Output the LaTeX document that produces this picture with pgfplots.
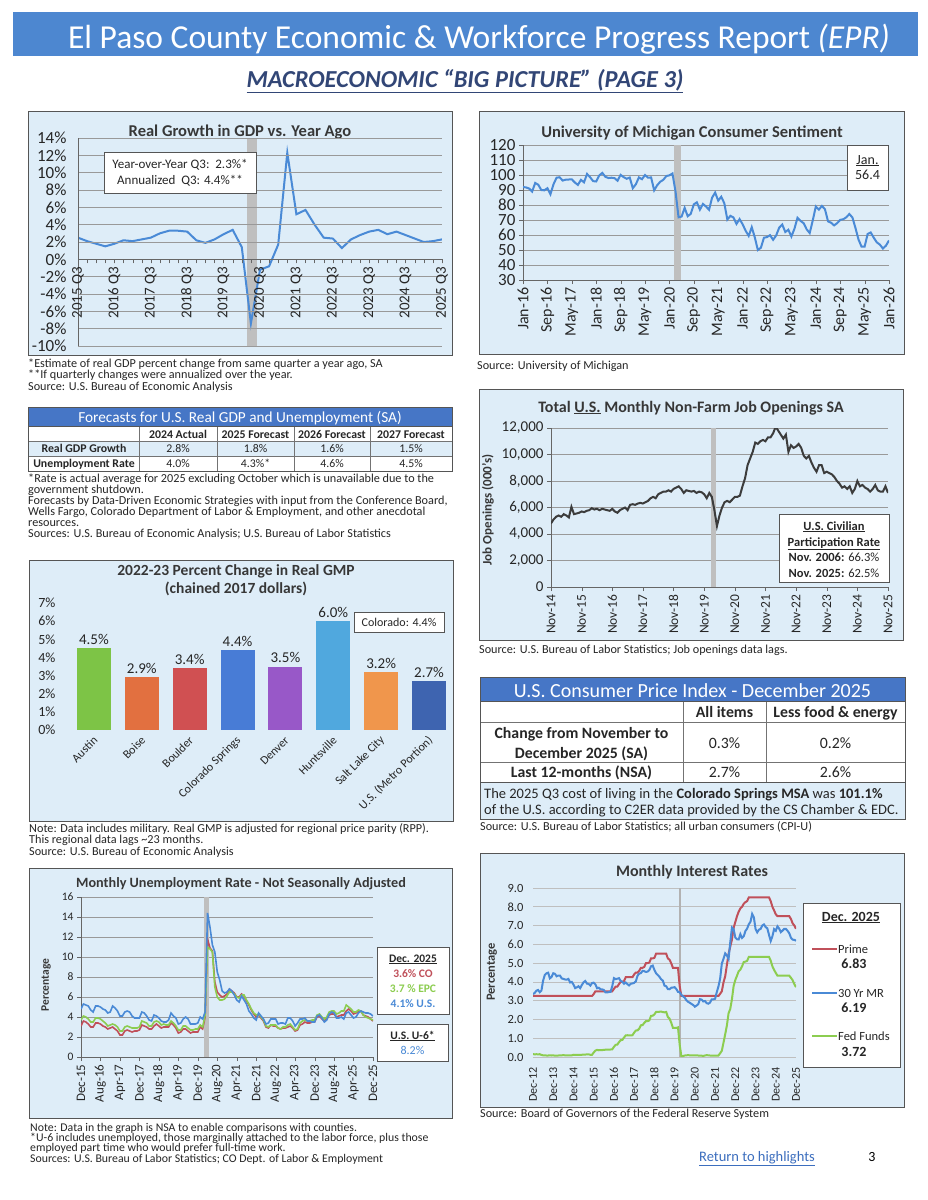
\documentclass[border=0pt]{standalone}
\usepackage{pgfplots}
\pgfplotsset{compat=1.18}
\usepackage{pgfplotstable}
\usepackage{fontspec}
\setmainfont{Carlito}

\definecolor{hdr}{RGB}{77,135,208}
\definecolor{tblhdr}{RGB}{70,118,198}
\definecolor{panel}{RGB}{222,237,248}
\definecolor{frame}{RGB}{85,85,85}
\definecolor{subt}{RGB}{50,70,118}
\definecolor{ttl}{RGB}{55,55,55}
\definecolor{lnblue}{RGB}{74,138,214}
\definecolor{lnred}{RGB}{192,80,90}
\definecolor{lngreen}{RGB}{140,205,80}
\definecolor{lngray}{RGB}{60,60,60}
\definecolor{link}{RGB}{60,110,190}
\definecolor{cAustin}{RGB}{125,196,70}
\definecolor{cBoise}{RGB}{226,112,64}
\definecolor{cBoulder}{RGB}{208,80,82}
\definecolor{cCS}{RGB}{72,124,214}
\definecolor{cDenver}{RGB}{152,88,200}
\definecolor{cHunts}{RGB}{80,168,222}
\definecolor{cSLC}{RGB}{240,150,76}
\definecolor{cUS}{RGB}{62,100,176}

\newcommand\fs[1]{\fontsize{#1}{#1}\selectfont}

\pgfplotsset{
  base/.style={scale only axis, anchor=south west,
    /pgf/number format/assume math mode=true,
    axis line style={-, draw=black!60}, tick style={black!60},
    ymajorgrids, grid style={black!40, line width=0.7pt},
    tick label style={text=black!85}},
}

% real GDP, % change from a year ago, 2015 Q3 .. 2025 Q3
\pgfplotstableread[row sep=\\]{v\\
2.5\\2.1\\1.8\\1.5\\1.8\\2.2\\2.1\\2.3\\2.5\\3.0\\3.3\\3.3\\3.2\\2.2\\1.9\\2.3\\2.9\\3.4\\1.4\\-7.4\\
-1.2\\-0.8\\1.7\\12.3\\5.2\\5.7\\4.0\\2.5\\2.4\\1.3\\2.3\\2.8\\3.2\\3.4\\2.9\\3.2\\2.8\\2.4\\2.0\\2.1\\2.3\\
}\gdp

% consumer sentiment, Jan-16 .. Jan-26
\pgfplotstableread[row sep=\\]{v\\
92.0\\91.7\\91.0\\89.0\\94.7\\93.5\\90.0\\89.8\\91.2\\87.2\\93.8\\98.2\\
98.5\\96.3\\96.9\\97.0\\97.1\\95.0\\93.4\\96.8\\95.1\\100.7\\98.5\\95.9\\
95.7\\99.7\\101.4\\98.8\\98.0\\98.2\\97.9\\96.2\\100.1\\98.6\\97.5\\98.3\\
91.2\\93.8\\98.4\\97.2\\100.0\\98.2\\98.4\\89.8\\93.2\\95.5\\96.8\\99.3\\
99.8\\101.0\\89.1\\71.8\\72.3\\78.1\\72.5\\74.1\\80.4\\81.8\\76.9\\80.7\\
79.0\\76.8\\84.9\\88.3\\82.9\\85.5\\81.2\\70.3\\72.8\\71.7\\67.4\\70.6\\
67.2\\62.8\\59.4\\65.2\\58.4\\50.0\\51.5\\58.2\\58.6\\59.9\\56.8\\59.7\\
64.9\\67.0\\62.0\\63.5\\59.0\\64.2\\71.5\\69.4\\67.9\\63.8\\61.3\\69.7\\
79.0\\76.9\\79.4\\77.2\\69.1\\68.2\\66.4\\67.9\\70.1\\70.5\\71.8\\74.0\\
71.7\\64.7\\57.0\\52.2\\52.2\\60.7\\61.7\\58.2\\55.1\\53.6\\51.0\\52.9\\
56.4\\
}\mich

% job openings (000s), Nov-14 .. Nov-25
\pgfplotstableread[row sep=\\]{v\\
4800\\5100\\
5300\\5400\\5300\\5500\\5400\\5250\\6050\\5500\\5550\\5600\\5700\\5650\\
5750\\5800\\5950\\5850\\5900\\5800\\5900\\5850\\5800\\5750\\5900\\5700\\
5600\\5800\\5900\\6000\\5800\\6200\\6250\\6200\\6300\\6350\\6300\\6400\\
6500\\6700\\6800\\6700\\7000\\7100\\7200\\7200\\7300\\7200\\7400\\7500\\
7600\\7400\\7100\\7300\\7250\\7200\\7250\\7100\\7200\\7150\\7000\\6700\\
7100\\6800\\5800\\4600\\5400\\6000\\6400\\6500\\6400\\6600\\6800\\6800\\
6900\\7600\\8200\\9200\\9700\\10200\\10900\\10800\\11000\\11100\\11000\\11300\\
11300\\11600\\12100\\11800\\11500\\11200\\11500\\10200\\10700\\10500\\10600\\10800\\
10500\\9900\\9700\\9900\\9400\\9000\\8700\\9200\\9200\\8600\\8700\\8600\\
8500\\8300\\8000\\7800\\7500\\7600\\7400\\7600\\7100\\7400\\8000\\7600\\
7700\\7500\\7400\\7200\\7400\\7700\\7300\\7200\\7200\\7600\\7100\\
}\jobs

% unemployment rate NSA, Dec-15 .. Dec-25
\pgfplotstableread[row sep=\\]{v\\
4.8\\
5.3\\5.2\\5.1\\4.7\\4.5\\5.1\\5.1\\5.0\\4.8\\4.7\\4.4\\4.5\\
5.1\\4.9\\4.6\\4.1\\4.1\\4.5\\4.6\\4.5\\4.1\\3.9\\3.9\\3.9\\
4.5\\4.4\\4.1\\3.7\\3.6\\4.2\\4.1\\3.9\\3.6\\3.5\\3.5\\3.7\\
4.4\\4.1\\3.9\\3.3\\3.4\\3.8\\4.0\\3.8\\3.3\\3.3\\3.3\\3.4\\
4.0\\3.8\\4.5\\14.4\\13.0\\11.2\\10.5\\8.5\\7.7\\6.6\\6.4\\6.5\\
6.8\\6.6\\6.2\\5.7\\5.5\\6.1\\5.7\\5.3\\4.6\\4.3\\3.9\\3.7\\
4.4\\4.1\\3.8\\3.3\\3.4\\3.8\\3.8\\3.8\\3.3\\3.4\\3.4\\3.3\\
3.9\\3.9\\3.6\\3.1\\3.4\\3.8\\3.8\\3.9\\3.6\\3.6\\3.5\\3.5\\
4.1\\4.2\\3.9\\3.5\\3.7\\4.3\\4.5\\4.4\\3.9\\3.9\\4.0\\3.8\\
4.4\\4.5\\4.2\\3.9\\4.0\\4.4\\4.6\\4.5\\4.4\\4.4\\4.3\\4.1\\
}\unus
\pgfplotstableread[row sep=\\]{v\\
3.1\\
3.6\\3.5\\3.3\\3.0\\3.0\\3.4\\3.4\\3.3\\3.1\\3.0\\2.8\\2.9\\
3.0\\2.8\\2.6\\2.2\\2.2\\2.6\\2.7\\2.6\\2.5\\2.6\\2.6\\2.7\\
3.2\\3.1\\3.0\\2.8\\2.8\\3.1\\3.3\\3.1\\2.9\\3.0\\3.0\\3.0\\
3.4\\3.2\\2.9\\2.4\\2.5\\2.8\\2.8\\2.6\\2.4\\2.5\\2.5\\2.5\\
3.0\\2.8\\4.0\\11.8\\10.9\\10.6\\7.5\\6.5\\6.2\\6.0\\6.1\\6.3\\
6.8\\6.6\\6.4\\6.0\\6.0\\6.3\\6.1\\5.6\\5.2\\4.7\\4.3\\4.0\\
4.2\\3.9\\3.6\\3.0\\2.9\\3.2\\3.1\\3.1\\2.9\\2.8\\2.9\\2.9\\
3.0\\3.1\\2.9\\2.6\\2.7\\3.2\\3.3\\3.5\\3.4\\3.4\\3.5\\3.5\\
4.0\\4.1\\3.8\\3.6\\3.8\\4.2\\4.3\\4.3\\4.0\\4.1\\4.2\\4.2\\
4.6\\4.8\\4.6\\4.3\\4.4\\4.6\\4.6\\4.2\\4.1\\4.0\\3.8\\3.6\\
}\unco
\pgfplotstableread[row sep=\\]{v\\
3.7\\
4.1\\4.0\\3.8\\3.5\\3.5\\3.9\\3.9\\3.8\\3.6\\3.4\\3.1\\3.2\\
3.3\\3.2\\3.0\\2.6\\2.6\\3.0\\3.1\\3.0\\2.9\\2.9\\2.9\\3.0\\
3.6\\3.5\\3.4\\3.1\\3.1\\3.5\\3.6\\3.5\\3.2\\3.3\\3.2\\3.2\\
3.6\\3.4\\3.1\\2.7\\2.7\\3.1\\3.1\\2.9\\2.7\\2.7\\2.8\\2.8\\
3.2\\3.0\\4.2\\11.0\\10.8\\10.5\\7.0\\6.0\\5.7\\5.7\\5.8\\6.1\\
6.5\\6.5\\6.3\\6.0\\5.9\\6.2\\6.2\\5.7\\5.3\\4.8\\4.4\\4.2\\
4.3\\4.0\\3.7\\3.1\\3.0\\3.2\\3.2\\3.2\\2.9\\2.8\\3.0\\3.0\\
3.2\\3.3\\3.0\\2.7\\2.8\\3.4\\3.6\\3.7\\3.6\\3.6\\3.7\\3.7\\
4.2\\4.3\\4.0\\3.8\\4.0\\4.5\\4.6\\4.6\\4.3\\4.4\\4.6\\4.6\\
5.2\\5.0\\4.8\\4.5\\4.5\\4.7\\4.6\\4.2\\4.0\\3.9\\3.8\\3.7\\
}\unepc

% interest rates, Dec-12 .. Dec-25
\pgfplotstableread[row sep=\\]{v\\
3.25\\
3.25\\3.25\\3.25\\3.25\\3.25\\3.25\\3.25\\3.25\\3.25\\3.25\\3.25\\3.25\\
3.25\\3.25\\3.25\\3.25\\3.25\\3.25\\3.25\\3.25\\3.25\\3.25\\3.25\\3.25\\
3.25\\3.25\\3.25\\3.25\\3.25\\3.25\\3.25\\3.25\\3.25\\3.25\\3.25\\3.35\\
3.5\\3.5\\3.5\\3.5\\3.5\\3.5\\3.5\\3.5\\3.5\\3.5\\3.5\\3.63\\
3.75\\3.75\\3.88\\4.0\\4.0\\4.05\\4.25\\4.25\\4.25\\4.25\\4.25\\4.4\\
4.5\\4.5\\4.59\\4.75\\4.75\\4.8\\5.0\\5.0\\5.03\\5.25\\5.25\\5.28\\
5.5\\5.5\\5.5\\5.5\\5.5\\5.5\\5.5\\5.25\\5.18\\4.99\\4.75\\4.75\\
4.75\\4.75\\3.78\\3.25\\3.25\\3.25\\3.25\\3.25\\3.25\\3.25\\3.25\\3.25\\
3.25\\3.25\\3.25\\3.25\\3.25\\3.25\\3.25\\3.25\\3.25\\3.25\\3.25\\3.25\\
3.25\\3.25\\3.37\\3.5\\3.98\\4.3\\4.9\\5.5\\5.88\\6.25\\6.88\\7.19\\
7.5\\7.74\\7.92\\8.0\\8.16\\8.25\\8.3\\8.5\\8.5\\8.5\\8.5\\8.5\\
8.5\\8.5\\8.5\\8.5\\8.5\\8.5\\8.5\\8.5\\8.3\\8.0\\7.81\\7.6\\
7.5\\7.5\\7.5\\7.5\\7.5\\7.5\\7.5\\7.5\\7.35\\7.12\\7.0\\6.83\\
}\prime
\pgfplotstableread[row sep=\\]{v\\
3.35\\
3.41\\3.53\\3.57\\3.45\\3.54\\4.07\\4.37\\4.46\\4.49\\4.19\\4.26\\4.46\\
4.43\\4.30\\4.34\\4.34\\4.19\\4.16\\4.13\\4.12\\4.16\\3.97\\4.00\\3.86\\
3.67\\3.71\\3.77\\3.67\\3.84\\3.98\\4.05\\3.91\\3.89\\3.80\\3.94\\3.96\\
3.87\\3.66\\3.69\\3.61\\3.60\\3.57\\3.44\\3.44\\3.46\\3.47\\3.77\\4.20\\
4.15\\4.17\\4.20\\4.05\\4.01\\3.90\\3.97\\3.88\\3.81\\3.90\\3.92\\3.95\\
4.03\\4.33\\4.44\\4.47\\4.59\\4.57\\4.53\\4.55\\4.63\\4.83\\4.87\\4.64\\
4.46\\4.37\\4.27\\4.14\\4.07\\3.80\\3.77\\3.62\\3.61\\3.69\\3.70\\3.72\\
3.62\\3.47\\3.45\\3.31\\3.23\\3.16\\3.02\\2.94\\2.89\\2.83\\2.77\\2.68\\
2.74\\2.81\\3.08\\3.06\\2.96\\2.98\\2.87\\2.84\\2.90\\3.07\\3.07\\3.10\\
3.45\\3.76\\4.17\\4.98\\5.23\\5.52\\5.41\\5.22\\6.11\\6.90\\6.81\\6.36\\
6.27\\6.26\\6.54\\6.34\\6.43\\6.71\\6.84\\7.07\\7.20\\7.62\\7.44\\6.82\\
6.64\\6.78\\6.82\\7.00\\7.06\\6.92\\6.85\\6.50\\6.18\\6.43\\6.81\\6.72\\
6.96\\6.84\\6.65\\6.73\\6.82\\6.82\\6.72\\6.59\\6.35\\6.25\\6.24\\6.19\\
}\mortg
\pgfplotstableread[row sep=\\]{v\\
0.16\\
0.14\\0.15\\0.14\\0.15\\0.11\\0.09\\0.09\\0.08\\0.08\\0.09\\0.08\\0.09\\
0.07\\0.07\\0.08\\0.09\\0.09\\0.10\\0.09\\0.09\\0.09\\0.09\\0.09\\0.12\\
0.11\\0.11\\0.11\\0.12\\0.12\\0.13\\0.13\\0.14\\0.14\\0.12\\0.12\\0.24\\
0.34\\0.38\\0.36\\0.37\\0.37\\0.38\\0.39\\0.40\\0.40\\0.40\\0.41\\0.54\\
0.65\\0.66\\0.79\\0.90\\0.91\\1.04\\1.15\\1.16\\1.15\\1.15\\1.16\\1.30\\
1.41\\1.42\\1.51\\1.69\\1.70\\1.82\\1.91\\1.91\\1.95\\2.19\\2.20\\2.27\\
2.40\\2.40\\2.41\\2.42\\2.39\\2.38\\2.40\\2.13\\2.04\\1.83\\1.55\\1.55\\
1.55\\1.58\\0.65\\0.05\\0.05\\0.08\\0.09\\0.10\\0.09\\0.09\\0.09\\0.09\\
0.09\\0.08\\0.07\\0.07\\0.06\\0.08\\0.10\\0.09\\0.08\\0.08\\0.08\\0.08\\
0.08\\0.08\\0.20\\0.33\\0.77\\1.21\\1.68\\2.33\\2.56\\3.08\\3.78\\4.10\\
4.33\\4.57\\4.65\\4.83\\5.06\\5.08\\5.12\\5.33\\5.33\\5.33\\5.33\\5.33\\
5.33\\5.33\\5.33\\5.33\\5.33\\5.33\\5.33\\5.33\\5.13\\4.83\\4.64\\4.48\\
4.33\\4.33\\4.33\\4.33\\4.33\\4.33\\4.33\\4.33\\4.22\\4.09\\3.88\\3.72\\
}\fedf

\begin{document}
\begin{tikzpicture}
\path[use as bounding box, fill=white] (0pt,0pt) rectangle (927pt,-1200pt);

\begin{scope}[x=1pt,y=-1pt]
% page header
\fill[hdr] (13,12) rectangle (918,56);
\node[anchor=base, text=white, inner sep=0pt, font=\fs{33.5}] at (479,48)
  {El Paso County Economic \& Workforce Progress Report \textit{(EPR)}};
\node[anchor=base, text=subt, inner sep=0pt, font=\fs{24.4}\bfseries\itshape] at (465,87)
  {\underline{MACROECONOMIC “BIG PICTURE” (PAGE 3)}};

% chart panels
\foreach \a/\b/\c/\d in {28/111/452/355, 479/111/904/354, 29/560/453/821,
                         479/389/903/640, 29/868/452/1118, 480/853/904/1107}
  \draw[frame, fill=panel, line width=0.8pt] (\a,\b) rectangle (\c,\d);

% chart titles
\begin{scope}[every node/.style={anchor=base, inner sep=0pt, text=ttl}]
\node[font=\fs{16.5}\bfseries] at (240,136) {Real Growth in GDP vs. Year Ago};
\node[font=\fs{16.5}\bfseries] at (692,137) {University of Michigan Consumer Sentiment};
\node[font=\fs{15.5}\bfseries] at (236,575) {2022-23 Percent Change in Real GMP};
\node[font=\fs{15.5}\bfseries] at (236,593) {(chained 2017 dollars)};
\node[font=\fs{16}\bfseries] at (691,412) {Total \underline{U.S.} Monthly Non-Farm Job Openings SA};
\node[font=\fs{14.2}\bfseries] at (241,887) {Monthly Unemployment Rate - Not Seasonally Adjusted};
\node[font=\fs{16}\bfseries] at (692,876) {Monthly Interest Rates};
\end{scope}

% forecast table
\fill[tblhdr] (28,407) rectangle (452,426);
\fill[panel] (28,441) rectangle (452,456);
\draw[black!55, line width=0.6pt] (28,441)--(452,441) (28,456)--(452,456)
  \foreach \x in {139,217,294,370} {(\x,426)--(\x,471)};
\draw[frame, line width=0.9pt] (28,407) rectangle (452,471) (28,426)--(452,426);
\node[anchor=base, text=white, font=\fs{15.3}] at (240,422) {Forecasts for U.S. Real GDP and Unemployment (SA)};
\begin{scope}[every node/.style={anchor=base, inner sep=0pt, text=black!85, font=\fs{11.8}}]
\node[font=\fs{11.8}\bfseries] at (178,438) {2024 Actual};
\node[font=\fs{11.8}\bfseries] at (255.5,438) {2025 Forecast};
\node[font=\fs{11.8}\bfseries] at (332,438) {2026 Forecast};
\node[font=\fs{11.8}\bfseries] at (411,438) {2027 Forecast};
\node[font=\fs{11.8}\bfseries] at (84,452) {Real GDP Growth};
\node at (178,452) {2.8\%}; \node at (255.5,452) {1.8\%};
\node at (332,452) {1.6\%}; \node at (411,452) {1.5\%};
\node[font=\fs{11.8}\bfseries] at (84,467) {Unemployment Rate};
\node at (178,467) {4.0\%}; \node at (255.5,467) {4.3\%*};
\node at (332,467) {4.6\%}; \node at (411,467) {4.5\%};
\end{scope}

% CPI table
\fill[tblhdr] (480,677) rectangle (905,701);
\fill[panel] (480,782) rectangle (905,819);
\draw[black!55, line width=0.6pt] (480,722)--(905,722) (480,762)--(905,762)
  (683,701)--(683,782) (766,701)--(766,782);
\draw[frame, line width=0.9pt] (480,677) rectangle (905,819) (480,701)--(905,701) (480,782)--(905,782);
\node[anchor=base, text=white, font=\fs{20}] at (692.5,697) {U.S. Consumer Price Index - December 2025};
\begin{scope}[every node/.style={anchor=base, inner sep=0pt, text=black!85, font=\fs{15.8}}]
\node[font=\fs{15.8}\bfseries] at (724.5,717) {All items};
\node[font=\fs{15.8}\bfseries] at (835.5,717) {Less food \& energy};
\node[font=\fs{15.8}\bfseries] at (581.5,738) {Change from November to};
\node[font=\fs{15.8}\bfseries] at (581.5,758) {December 2025 (SA)};
\node at (724.5,748) {0.3\%}; \node at (835.5,748) {0.2\%};
\node[font=\fs{15.8}\bfseries] at (581.5,777) {Last 12-months (NSA)};
\node at (724.5,777) {2.7\%}; \node at (835.5,777) {2.6\%};
\node[anchor=base west, font=\fs{14.5}] at (484,798)
  {The 2025 Q3 cost of living in the \textbf{Colorado Springs MSA} was \textbf{101.1\%}};
\node[anchor=base west, font=\fs{14.5}] at (484,814)
  {of the U.S. according to C2ER data provided by the CS Chamber \& EDC.};
\end{scope}

% notes and sources
\begin{scope}[every node/.style={anchor=base west, inner sep=0pt, text=black!85, font=\fs{12.2}}]
\node at (28,367) {*Estimate of real GDP percent change from same quarter a year ago, SA};
\node at (28,378) {**If quarterly changes were annualized over the year.};
\node at (28,390) {Source: U.S. Bureau of Economic Analysis};
\node at (477,369) {Source: University of Michigan};
\node at (28,482) {*Rate is actual average for 2025 excluding October which is unavailable due to the};
\node at (28,493) {government shutdown.};
\node at (28,504) {Forecasts by Data-Driven Economic Strategies with input from the Conference Board,};
\node at (28,515) {Wells Fargo, Colorado Department of Labor \& Employment, and other anecdotal};
\node at (28,526) {resources.};
\node at (28,537) {Sources: U.S. Bureau of Economic Analysis; U.S. Bureau of Labor Statistics};
\node at (479,653) {Source: U.S. Bureau of Labor Statistics; Job openings data lags.};
\node at (29,832) {Note: Data includes military. Real GMP is adjusted for regional price parity (RPP).};
\node at (29,843) {This regional data lags \textasciitilde 23 months.};
\node at (29,855) {Source: U.S. Bureau of Economic Analysis};
\node at (480,830) {Source: U.S. Bureau of Labor Statistics; all urban consumers (CPI-U)};
\node at (480,1117) {Source: Board of Governors of the Federal Reserve System};
\end{scope}
\begin{scope}[every node/.style={anchor=base west, inner sep=0pt, text=black!85, font=\fs{11.8}}]
\node at (30,1131) {Note: Data in the graph is NSA to enable comparisons with counties.};
\node at (30,1141) {*U-6 includes unemployed, those marginally attached to the labor force, plus those};
\node at (30,1151) {employed part time who would prefer full-time work.};
\node at (30,1162) {Sources: U.S. Bureau of Labor Statistics; CO Dept. of Labor \& Employment};
\end{scope}
\node[anchor=base, text=link, font=\fs{14.5}] at (757,1161) {\underline{Return to highlights}};
\node[anchor=base, text=black, font=\fs{14}] at (872,1161) {3};
\end{scope}

% ---- Real GDP growth
\begin{axis}[base, axis on top, at={(78pt,-346pt)}, width=364pt, height=208pt,
  xmin=0, xmax=40, ymin=-10, ymax=14,
  axis x line=middle, axis y line=left, axis line style={-, draw=black!60},
  hide obscured x ticks=false, hide obscured y ticks=false,
  ytick={-10,-8,...,14}, yticklabel={\pgfmathprintnumber{\tick}\%},
  ytick style={draw=none},
  xtick={0,4,...,40}, minor xtick={0,...,40},
  xticklabels={2015 Q3,2016 Q3,2017 Q3,2018 Q3,2019 Q3,2020 Q3,2021 Q3,2022 Q3,2023 Q3,2024 Q3,2025 Q3},
  xticklabel style={rotate=90, anchor=east, font=\fs{15}},
  yticklabel style={font=\fs{17}, xshift=-4pt},
  tick align=outside, major tick length=4pt, minor tick length=4pt]
\fill[black!25] (axis cs:18.6,-10) rectangle (axis cs:19.7,14);
\addplot[lnblue, line width=2pt, no marks] table[x expr=\coordindex, y=v] {\gdp};
\end{axis}

% ---- consumer sentiment
\begin{axis}[base, at={(523pt,-280pt)}, width=366pt, height=135pt,
  xmin=0, xmax=120, ymin=30, ymax=120,
  axis x line=bottom, axis y line=left, axis line style={-, draw=black!60},
  ytick={30,40,...,120}, xtick={0,8,...,120},
  xticklabels={Jan-16,Sep-16,May-17,Jan-18,Sep-18,May-19,Jan-20,Sep-20,May-21,Jan-22,Sep-22,May-23,Jan-24,Sep-24,May-25,Jan-26},
  xticklabel style={rotate=90, anchor=east, font=\fs{16}},
  yticklabel style={font=\fs{17}},
  tick align=outside, major tick length=4pt]
\fill[black!25] (axis cs:49.5,30) rectangle (axis cs:51.8,120);
\addplot[lnblue, line width=2pt, no marks] table[x expr=\coordindex, y=v] {\mich};
\end{axis}

% ---- job openings
\begin{axis}[base, at={(551pt,-587pt)}, width=337pt, height=159pt,
  xmin=0, xmax=132, ymin=0, ymax=12000, scaled y ticks=false,
  axis x line=bottom, axis y line=left, axis line style={-, draw=black!60},
  ytick={0,2000,...,12000}, xtick={0,12,...,132},
  xticklabels={Nov-14,Nov-15,Nov-16,Nov-17,Nov-18,Nov-19,Nov-20,Nov-21,Nov-22,Nov-23,Nov-24,Nov-25},
  xticklabel style={rotate=90, anchor=east, font=\fs{13.5}},
  yticklabel style={font=\fs{15}, /pgf/number format/1000 sep={,}},
  tick align=outside, major tick length=4pt]
\fill[black!25] (axis cs:62.6,0) rectangle (axis cs:64.8,12000);
\addplot[lngray, line width=2pt, no marks] table[x expr=\coordindex, y=v] {\jobs};
\end{axis}

% ---- real GMP bars
\begin{axis}[base, at={(70pt,-730pt)}, width=383pt, height=127pt,
  xmin=-0.5, xmax=7.5, ymin=0, ymax=7, clip=false,
  ymajorgrids=false, axis line style={draw=none}, tick style={draw=none},
  ytick={0,1,...,7}, yticklabel={\pgfmathprintnumber{\tick}\%},
  yticklabel style={font=\fs{14}, xshift=-11pt},
  xtick={0,...,7},
  xticklabels={Austin,Boise,Boulder,Colorado Springs,Denver,Huntsville,Salt Lake City,U.S. (Metro Portion)},
  xticklabel style={yshift=-6pt, xshift=4pt, rotate=45, anchor=east, font=\fs{12}},
  nodes near coords={\pgfmathprintnumber[fixed,fixed zerofill,precision=1]{\pgfplotspointmeta}\%},
  every node near coord/.append style={font=\fs{15}, text=black!85}]
\addplot[ybar, bar width=34pt, fill=cAustin, draw=none] coordinates {(0,4.5)};
\addplot[ybar, bar width=34pt, fill=cBoise, draw=none] coordinates {(1,2.9)};
\addplot[ybar, bar width=34pt, fill=cBoulder, draw=none] coordinates {(2,3.4)};
\addplot[ybar, bar width=34pt, fill=cCS, draw=none] coordinates {(3,4.4)};
\addplot[ybar, bar width=34pt, fill=cDenver, draw=none] coordinates {(4,3.5)};
\addplot[ybar, bar width=34pt, fill=cHunts, draw=none] coordinates {(5,6.0)};
\addplot[ybar, bar width=34pt, fill=cSLC, draw=none] coordinates {(6,3.2)};
\addplot[ybar, bar width=34pt, fill=cUS, draw=none] coordinates {(7,2.7)};
\end{axis}

% ---- unemployment
\begin{axis}[base, at={(81pt,-1057pt)}, width=292pt, height=160pt,
  xmin=0, xmax=120, ymin=0, ymax=16,
  axis x line=bottom, axis y line=left, axis line style={-, draw=black!60},
  ytick={0,2,...,16}, xtick={0,8,...,120},
  xticklabels={Dec-15,Aug-16,Apr-17,Dec-17,Aug-18,Apr-19,Dec-19,Aug-20,Apr-21,Dec-21,Aug-22,Apr-23,Dec-23,Aug-24,Apr-25,Dec-25},
  xticklabel style={rotate=90, anchor=east, font=\fs{13}},
  yticklabel style={font=\fs{11.5}},
  tick align=outside, major tick length=4pt]
\fill[black!25] (axis cs:50.5,0) rectangle (axis cs:52.5,16);
\addplot[lnred, line width=1.6pt, no marks] table[x expr=\coordindex, y=v] {\unco};
\addplot[lngreen, line width=1.6pt, no marks] table[x expr=\coordindex, y=v] {\unepc};
\addplot[lnblue, line width=1.6pt, no marks] table[x expr=\coordindex, y=v] {\unus};
\end{axis}

% ---- interest rates
\begin{axis}[base, at={(533pt,-1057pt)}, width=263pt, height=169pt,
  xmin=0, xmax=156, ymin=0, ymax=9,
  axis line style={draw=none}, grid style={black!25, line width=0.7pt},
  ytick={0,1,...,9}, xtick={0,12,...,156}, tick style={draw=none},
  yticklabel style={font=\fs{12.5}, xshift=-6pt, /pgf/number format/.cd, fixed, fixed zerofill, precision=1},
  xticklabels={Dec-12,Dec-13,Dec-14,Dec-15,Dec-16,Dec-17,Dec-18,Dec-19,Dec-20,Dec-21,Dec-22,Dec-23,Dec-24,Dec-25},
  xticklabel style={yshift=-7pt, rotate=90, anchor=east, font=\fs{12}}]
\fill[black!30] (axis cs:86.6,0) rectangle (axis cs:88,9);
\addplot[lngreen, line width=2pt, no marks] table[x expr=\coordindex, y=v] {\fedf};
\addplot[lnred, line width=2pt, no marks] table[x expr=\coordindex, y=v] {\prime};
\addplot[lnblue, line width=2pt, no marks] table[x expr=\coordindex, y=v] {\mortg};
\end{axis}

% boxes and labels on top of the charts
\begin{scope}[x=1pt,y=-1pt]
\draw[frame, fill=white, line width=0.8pt] (104,152) rectangle (256,193);
\node[anchor=base, inner sep=0pt, font=\fs{13}, text=black!85] at (180,168) {Year-over-Year Q3:\ \ 2.3\%*};
\node[anchor=base, inner sep=0pt, font=\fs{13}, text=black!85] at (180,184) {Annualized\ \ Q3: 4.4\%**};

\draw[frame, fill=white, line width=0.8pt] (847,145) rectangle (888,190);
\node[anchor=base, inner sep=0pt, font=\fs{14}, text=black!85] at (867.5,164) {\underline{Jan.}};
\node[anchor=base, inner sep=0pt, font=\fs{14}, text=black!85] at (867.5,179) {56.4};

\draw[frame, fill=white, line width=0.8pt] (354,612) rectangle (444,632);
\node[anchor=base, inner sep=0pt, font=\fs{12}, text=black!85] at (399,626) {Colorado: 4.4\%};

\draw[frame, fill=white, line width=0.9pt] (779,514) rectangle (889,582);
\begin{scope}[every node/.style={anchor=base, inner sep=0pt, text=black!85, font=\fs{12.5}}]
\node[font=\fs{12.5}\bfseries] at (834,530) {\underline{U.S. Civilian}};
\node[font=\fs{12.5}\bfseries] at (834,546) {\underline{Participation Rate}};
\node at (834,561) {\textbf{Nov. 2006:} 66.3\%};
\node at (834,577) {\textbf{Nov. 2025:} 62.5\%};
\end{scope}
\node[rotate=90, inner sep=0pt, font=\fs{13}\bfseries, text=ttl] at (488,510) {Job Openings (000's)};

\draw[frame, fill=white, line width=0.8pt] (377,947) rectangle (449,1014);
\draw[frame, fill=white, line width=0.8pt] (377,1024) rectangle (448,1061);
\begin{scope}[every node/.style={anchor=base, inner sep=0pt, font=\fs{11.5}\bfseries}]
\node[text=black!85] at (413,962) {\underline{Dec. 2025}};
\node[text=lnred] at (413,977) {3.6\% CO};
\node[text=lngreen] at (413,992) {3.7 \% EPC};
\node[text=lnblue] at (413,1007) {4.1\% U.S.};
\node[text=black!85] at (412.5,1039) {\underline{U.S. U-6*}};
\node[text=lnblue, font=\fs{12}] at (412.5,1054) {8.2\%};
\end{scope}
\node[rotate=90, inner sep=0pt, font=\fs{11.5}\bfseries, text=ttl] at (46,985) {Percentage};

\draw[frame, fill=white, line width=0.8pt] (803,903) rectangle (900,1067);
\begin{scope}[every node/.style={inner sep=0pt, text=black!85}]
\node[anchor=base, font=\fs{14}\bfseries] at (851,921) {\underline{Dec. 2025}};
\draw[lnred, line width=2.5pt] (812,949)--(837,949);
\node[anchor=base west, font=\fs{12.5}] at (838,953) {Prime};
\node[anchor=base, font=\fs{14}\bfseries] at (854,968) {6.83};
\draw[lnblue, line width=2.5pt] (812,993)--(837,993);
\node[anchor=base west, font=\fs{12.5}] at (838,997) {30 Yr MR};
\node[anchor=base, font=\fs{14}\bfseries] at (854,1012) {6.19};
\draw[lngreen, line width=2.5pt] (812,1036)--(837,1036);
\node[anchor=base west, font=\fs{12.5}] at (838,1040) {Fed Funds};
\node[anchor=base, font=\fs{14}\bfseries] at (854,1056) {3.72};
\end{scope}
\node[rotate=90, inner sep=0pt, font=\fs{12.5}\bfseries, text=ttl] at (492,972) {Percentage};
\end{scope}
\end{tikzpicture}
\end{document}
